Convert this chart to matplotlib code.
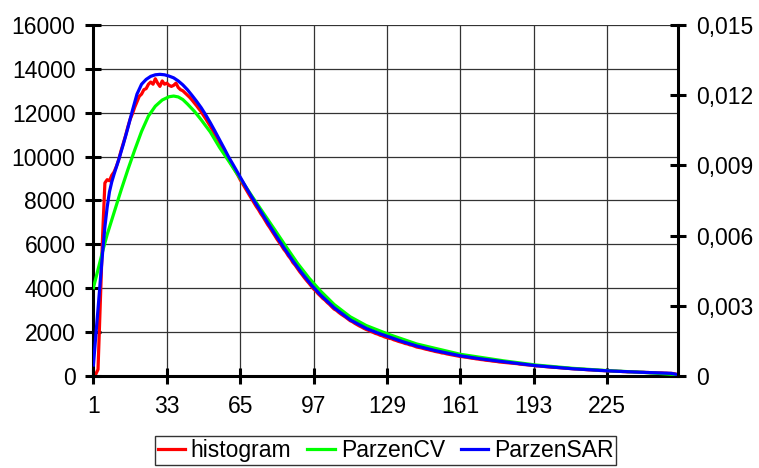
import matplotlib
matplotlib.use("Agg")
import matplotlib.pyplot as plt

plt.rcParams['font.family'] = ['Liberation Sans', 'DejaVu Sans']

# Histogram counts, one value per grey level 1..256 (left axis)
hist_counts = [
    0, 80, 300, 3300, 6400, 8800, 8950, 8900, 9150, 9300,
    9550, 9850, 10250, 10600, 10950, 11350, 11700, 11950, 12250, 12500,
    12750, 12850, 13050, 13100, 13300, 13400, 13300, 13550, 13350, 13200,
    13450, 13300, 13350, 13250, 13200, 13250, 13350, 13150, 13050, 13000,
    12900, 12800, 12700, 12580, 12450, 12320, 12180, 12050, 11880, 11720,
    11550, 11380, 11200, 11000, 10850, 10650, 10450, 10250, 10050, 9870,
    9680, 9500, 9320, 9150, 8950, 8780, 8600, 8420, 8250, 8080,
    7900, 7730, 7580, 7400, 7250, 7070, 6900, 6750, 6580, 6420,
    6250, 6100, 5950, 5780, 5650, 5480, 5350, 5170, 5050, 4900,
    4750, 4620, 4480, 4350, 4230, 4100, 3970, 3880, 3750, 3650,
    3540, 3460, 3350, 3260, 3150, 3050, 2990, 2900, 2820, 2750,
    2680, 2600, 2520, 2470, 2400, 2340, 2280, 2230, 2170, 2120,
    2080, 2030, 1990, 1940, 1910, 1860, 1830, 1780, 1750, 1720,
    1700, 1650, 1620, 1580, 1550, 1520, 1480, 1460, 1420, 1400,
    1360, 1320, 1300, 1280, 1250, 1220, 1200, 1170, 1150, 1120,
    1100, 1080, 1050, 1040, 1010, 990, 970, 950, 930, 910,
    890, 880, 860, 850, 830, 810, 800, 780, 770, 750,
    740, 720, 710, 700, 680, 670, 660, 640, 630, 620,
    610, 600, 590, 580, 570, 560, 540, 530, 520, 510,
    500, 490, 480, 460, 460, 450, 440, 430, 420, 410,
    400, 390, 390, 380, 370, 360, 350, 350, 340, 330,
    320, 320, 310, 300, 300, 290, 280, 280, 270, 260,
    260, 250, 250, 240, 240, 230, 230, 220, 220, 210,
    210, 200, 200, 190, 190, 190, 180, 180, 170, 170,
    170, 160, 160, 150, 150, 150, 140, 140, 140, 130,
    130, 120, 120, 110, 90, 20,
]
hist_levels = list(range(1, len(hist_counts) + 1))

# Parzen density estimate, cross-validated bandwidth (right axis)
cv_levels = [1, 3, 5, 7, 10, 13, 16, 19, 22, 25, 28, 31, 34, 36, 38, 40, 42,
             45, 48, 52, 56, 60, 62, 66, 70, 75, 80, 85, 90, 95, 100, 106,
             113, 120, 130, 142, 161, 180, 194, 210, 226, 240, 256]
cv_density = [0.003773, 0.004547, 0.005325, 0.006047, 0.006984, 0.007922,
              0.008813, 0.009656, 0.010453, 0.011109, 0.011531, 0.011794,
              0.011934, 0.011963, 0.011925, 0.011813, 0.011625, 0.011316,
              0.010950, 0.010425, 0.009769, 0.009188, 0.008888, 0.008306,
              0.007706, 0.006984, 0.006263, 0.005531, 0.004819, 0.004191,
              0.003638, 0.003056, 0.002531, 0.002156, 0.001772, 0.001369,
              0.000928, 0.000647, 0.000469, 0.000328, 0.000225, 0.000159,
              0.000056]

# Parzen density estimate, SAR bandwidth (right axis)
sar_levels = [1, 2, 3, 4, 5, 6, 7, 8, 9, 10, 12, 14, 16, 18, 20, 22, 24, 26,
              28, 30, 32, 34, 36, 38, 40, 42, 44, 46, 48, 50, 52, 54, 56, 58,
              60, 62, 64, 66, 68, 70, 72, 74, 76, 78, 80, 84, 88, 92, 96, 100,
              106, 113, 120, 125, 130, 136, 142, 150, 161, 170, 180, 194, 210,
              226, 240, 253, 256]
sar_density = [0.000469, 0.001688, 0.002859, 0.004078, 0.005278, 0.006375,
               0.007219, 0.007875, 0.008297, 0.008625, 0.009234, 0.009891,
               0.010594, 0.011344, 0.012047, 0.012469, 0.012675, 0.012806,
               0.012872, 0.012891, 0.012872, 0.012816, 0.012741, 0.012609,
               0.012441, 0.012234, 0.011991, 0.011738, 0.011466, 0.011156,
               0.010819, 0.010463, 0.010097, 0.009731, 0.009356, 0.009019,
               0.008677, 0.008334, 0.007988, 0.007659, 0.007341, 0.007031,
               0.006713, 0.006403, 0.006094, 0.005494, 0.004922, 0.004388,
               0.003900, 0.003469, 0.002916, 0.002400, 0.002034, 0.001838,
               0.001669, 0.001463, 0.001284, 0.001088, 0.000863, 0.000731,
               0.000609, 0.000441, 0.000309, 0.000216, 0.000159, 0.000113,
               0.000056]

x_ticks = [1, 33, 65, 97, 129, 161, 193, 225]
left_ticks = [0, 2000, 4000, 6000, 8000, 10000, 12000, 14000, 16000]
right_ticks = [0, 0.003, 0.006, 0.009, 0.012, 0.015]
right_labels = ["0", "0,003", "0,006", "0,009", "0,012", "0,015"]

FS = 16.5
LW = 2.3

fig = plt.figure(figsize=(7.59, 4.68), dpi=100)
ax = fig.add_axes([0.1231, 0.1966, 0.7702, 0.75])
ax2 = ax.twinx()

h1, = ax.plot(hist_levels, hist_counts, color='#ff0000', lw=LW,
              solid_joinstyle='round', label='histogram')
h2, = ax2.plot(cv_levels, cv_density, color='#00ff00', lw=LW,
               solid_joinstyle='round', label='ParzenCV')
h3, = ax2.plot(sar_levels, sar_density, color='#0000ff', lw=LW,
               solid_joinstyle='round', label='ParzenSAR')

ax.set_xlim(1, 256)
ax.set_ylim(0, 16000)
ax2.set_ylim(0, 0.015)

ax.set_xticks(x_ticks)
ax.set_xticklabels([str(v) for v in x_ticks])
ax.set_yticks(left_ticks)
ax.set_yticklabels([str(v) for v in left_ticks])
ax2.set_yticks(right_ticks)
ax2.set_yticklabels(right_labels)

ax.grid(True, color='#333333', lw=0.9)
ax.set_axisbelow(True)

for a in (ax, ax2):
    for s in a.spines.values():
        s.set_linewidth(2.2)
        s.set_color('black')
    a.spines['top'].set_visible(False)
ax.spines['right'].set_visible(False)
ax2.spines['left'].set_visible(False)
ax2.spines['bottom'].set_visible(False)

ax.tick_params(axis='both', direction='inout', length=11, width=2.2,
               labelsize=FS, colors='black')
ax.tick_params(axis='y', pad=7.5)
ax.tick_params(axis='x', pad=8)
ax2.tick_params(axis='y', direction='inout', length=11, width=2.2,
                labelsize=FS, pad=7.5)

leg = fig.legend(handles=[h1, h2, h3], loc='upper center',
                 bbox_to_anchor=(0.508, 1 - 436 / 468), ncol=3,
                 fontsize=FS, frameon=True, fancybox=False,
                 handlelength=1.2, handletextpad=0.25, columnspacing=0.7,
                 borderpad=0.12, borderaxespad=0)
leg.get_frame().set_edgecolor('black')
leg.get_frame().set_linewidth(1.0)

fig.savefig('out.png', dpi=100)
